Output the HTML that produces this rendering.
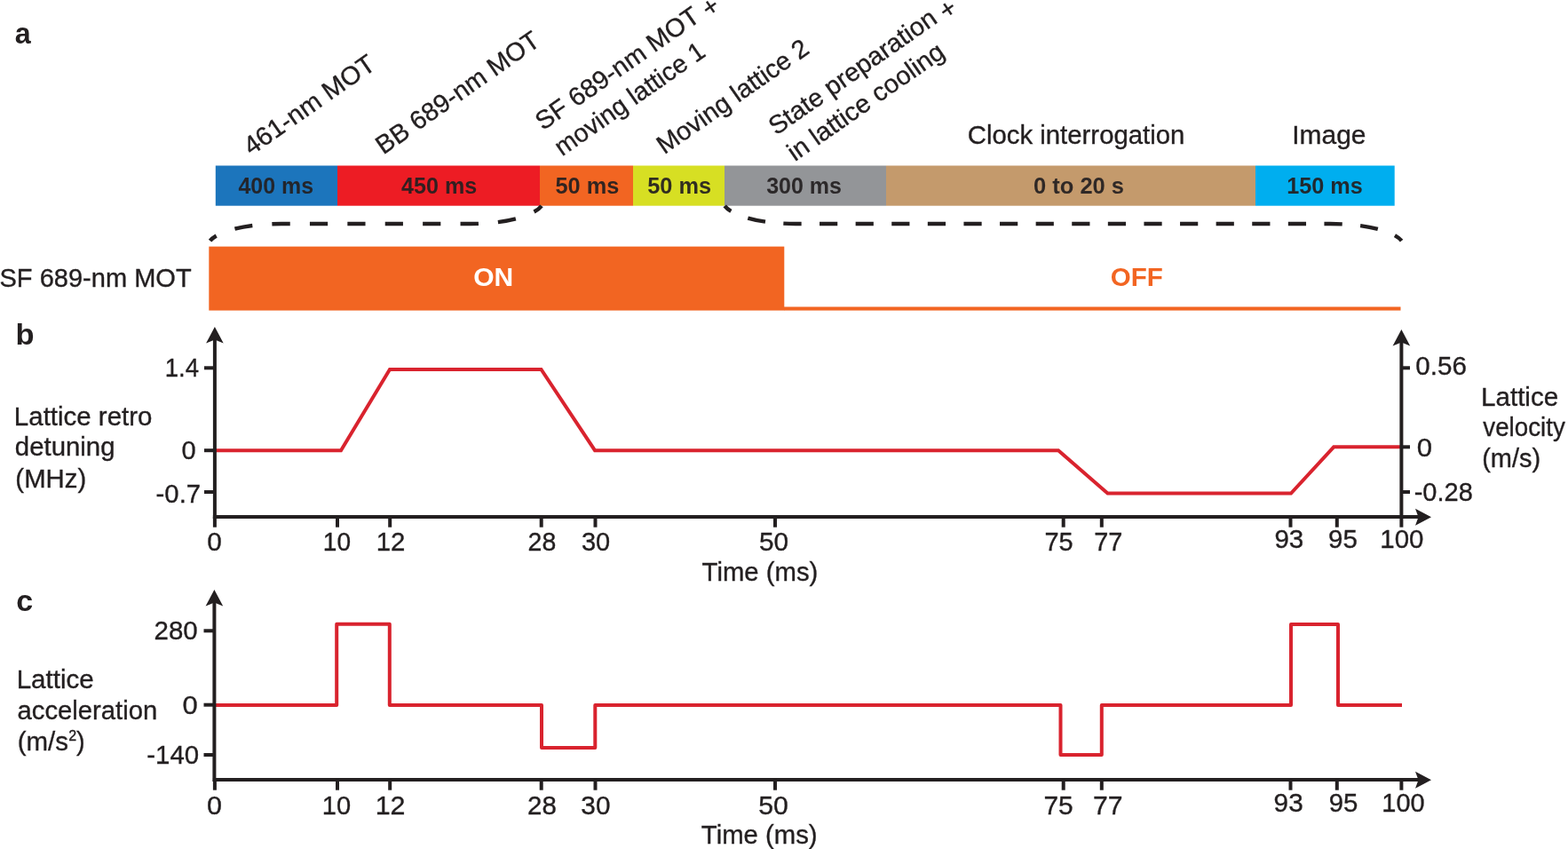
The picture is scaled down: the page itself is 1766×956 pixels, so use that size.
<!DOCTYPE html>
<html lang="en">
<head>
<meta charset="utf-8">
<title>Lattice clock timing sequence</title>
<style>
html,body{margin:0;padding:0;background:#ffffff;}
body{width:1766px;height:956px;overflow:hidden;}
svg{display:block;}
svg text{font-family:"Liberation Sans", Arial, Helvetica, sans-serif;}
svg text.r{stroke:#231f20;stroke-width:0.35px;}
</style>
</head>
<body>
<svg width="1766" height="956" viewBox="0 0 1766 956">
<rect x="0" y="0" width="1766" height="956" fill="#ffffff"/>
<rect x="242.8" y="186.5" width="137.2" height="45.2" fill="#1c75bc"/>
<rect x="380" y="186.5" width="228" height="45.2" fill="#ed1c24"/>
<rect x="608" y="186.5" width="105" height="45.2" fill="#f26522"/>
<rect x="713" y="186.5" width="103" height="45.2" fill="#d7df23"/>
<rect x="816" y="186.5" width="182" height="45.2" fill="#939598"/>
<rect x="998" y="186.5" width="416" height="45.2" fill="#c49a6c"/>
<rect x="1414" y="186.5" width="156.7" height="45.2" fill="#00aeef"/>
<text x="268.38" y="217.5" font-size="25" fill="#231f20" font-weight="bold" fill-opacity="0.93" textLength="84.66" lengthAdjust="spacingAndGlyphs">400 ms</text>
<text x="452.12" y="217.5" font-size="25" fill="#231f20" font-weight="bold" fill-opacity="0.93" textLength="85.17" lengthAdjust="spacingAndGlyphs">450 ms</text>
<text x="625.46" y="217.5" font-size="25" fill="#231f20" font-weight="bold" fill-opacity="0.93" textLength="71.84" lengthAdjust="spacingAndGlyphs">50 ms</text>
<text x="729.21" y="217.5" font-size="25" fill="#231f20" font-weight="bold" fill-opacity="0.93" textLength="71.84" lengthAdjust="spacingAndGlyphs">50 ms</text>
<text x="863.17" y="217.5" font-size="25" fill="#231f20" font-weight="bold" fill-opacity="0.93" textLength="84.87" lengthAdjust="spacingAndGlyphs">300 ms</text>
<text x="1163.98" y="217.5" font-size="25" fill="#231f20" font-weight="bold" fill-opacity="0.93" textLength="102.07" lengthAdjust="spacingAndGlyphs">0 to 20 s</text>
<text x="1449.16" y="217.5" font-size="25" fill="#231f20" font-weight="bold" fill-opacity="0.93" textLength="85.64" lengthAdjust="spacingAndGlyphs">150 ms</text>
<text x="16.86" y="49.0" font-size="33" fill="#231f20" font-weight="bold" textLength="17.95" lengthAdjust="spacingAndGlyphs">a</text>
<text x="17.52" y="388.0" font-size="33" fill="#231f20" font-weight="bold" textLength="21.09" lengthAdjust="spacingAndGlyphs">b</text>
<text x="18.27" y="687.7" font-size="33" fill="#231f20" font-weight="bold" textLength="18.92" lengthAdjust="spacingAndGlyphs">c</text>
<text x="1089.75" y="162" font-size="29" fill="#231f20" class="r" textLength="244.67" lengthAdjust="spacingAndGlyphs">Clock interrogation</text>
<text x="1455.24" y="162" font-size="29" fill="#231f20" class="r" textLength="83.28" lengthAdjust="spacingAndGlyphs">Image</text>
<text x="283.0" y="175.5" font-size="29" fill="#231f20" class="r" textLength="172.86" lengthAdjust="spacingAndGlyphs" transform="rotate(-35 283.0 175.5)">461-nm MOT</text>
<text x="431.8" y="174.5" font-size="29" fill="#231f20" class="r" textLength="217.56" lengthAdjust="spacingAndGlyphs" transform="rotate(-35 431.8 174.5)">BB 689-nm MOT</text>
<text x="611.5" y="147.5" font-size="29" fill="#231f20" class="r" textLength="218.09" lengthAdjust="spacingAndGlyphs" transform="rotate(-35 611.5 147.5)">SF 689-nm MOT</text>
<text class="r" x="798.83" y="20.61" font-size="29" fill="#231f20" transform="rotate(-35 798.83 20.61)">+</text>
<text x="633" y="176.5" font-size="29" fill="#231f20" class="r" textLength="199.47" lengthAdjust="spacingAndGlyphs" transform="rotate(-35 633 176.5)">moving lattice 1</text>
<text x="748.3" y="174.3" font-size="29" fill="#231f20" class="r" textLength="201.49" lengthAdjust="spacingAndGlyphs" transform="rotate(-35 748.3 174.3)">Moving lattice 2</text>
<text x="874.2" y="152.9" font-size="29" fill="#231f20" class="r" textLength="223.6" lengthAdjust="spacingAndGlyphs" transform="rotate(-35 874.2 152.9)">State preparation</text>
<text class="r" x="1066.01" y="22.87" font-size="29" fill="#231f20" transform="rotate(-35 1066.01 22.87)">+</text>
<text x="895.2" y="182.3" font-size="29" fill="#231f20" class="r" textLength="208.41" lengthAdjust="spacingAndGlyphs" transform="rotate(-35 895.2 182.3)">in lattice cooling</text>
<path d="M236.6,271.2 C243.6,262 272,252 317,252 L530,252 C575,252 603,241 610,231.9" fill="none" stroke="#231f20" stroke-width="4.4" stroke-dasharray="20.2 22.2" stroke-dashoffset="10.9"/>
<path d="M816.2,231.9 C823,241 851,252 896,252 L1498,252 C1543,252 1571.5,262 1578.6,271.2" fill="none" stroke="#231f20" stroke-width="4.4" stroke-dasharray="20.2 20.4" stroke-dashoffset="10.7"/>
<text x="-0.54" y="322.5" font-size="29" fill="#231f20" class="r" textLength="216.2" lengthAdjust="spacingAndGlyphs">SF 689-nm MOT</text>
<rect x="235.3" y="277.6" width="648" height="72" fill="#f26522"/>
<rect x="883" y="345.5" width="694.5" height="4.1" fill="#f26522"/>
<text x="533.27" y="322.0" font-size="29" fill="#ffffff" font-weight="bold" textLength="44.99" lengthAdjust="spacingAndGlyphs">ON</text>
<text x="1250.79" y="321.6" font-size="29" fill="#f26522" font-weight="bold" textLength="59.04" lengthAdjust="spacingAndGlyphs">OFF</text>
<polyline points="241.7,507.2 384,507.2 439,416 609.5,416 670,507.2 1192,507.2 1247.5,555.5 1454,555.5 1502.2,503.3 1578.4,503.3" fill="none" stroke="#d9232e" stroke-width="4" stroke-linejoin="miter"/>
<polyline points="241.7,794 379.2,794 379.2,702.7 438.8,702.7 438.8,794 610,794 610,842 670.3,842 670.3,794 1194.5,794 1194.5,850 1240.8,850 1240.8,794 1454,794 1454,703 1507,703 1507,794 1579,794" fill="none" stroke="#d9232e" stroke-width="4" stroke-linejoin="round"/>
<rect x="239.9" y="380" width="4" height="204" fill="#231f20"/>
<path d="M241.9,367.9 L251.70000000000002,386.4 L241.9,382.4 L232.1,386.4 Z" fill="#231f20"/>
<rect x="1576.4" y="383" width="4" height="201" fill="#231f20"/>
<path d="M1578.4,371 L1588.2,389.5 L1578.4,385.5 L1568.6000000000001,389.5 Z" fill="#231f20"/>
<rect x="239.9" y="580.0" width="1358.1" height="4" fill="#231f20"/>
<path d="M1612,582.2 L1594,572.7 L1597.5,582.2 L1594,591.7 Z" fill="#231f20"/>
<rect x="239.9" y="582" width="4" height="11.7" fill="#231f20"/>
<rect x="378.0" y="582" width="4" height="11.7" fill="#231f20"/>
<rect x="437.2" y="582" width="4" height="11.7" fill="#231f20"/>
<rect x="607.7" y="582" width="4" height="11.7" fill="#231f20"/>
<rect x="668.5" y="582" width="4" height="11.7" fill="#231f20"/>
<rect x="871.0" y="582" width="4" height="11.7" fill="#231f20"/>
<rect x="1195.7" y="582" width="4" height="11.7" fill="#231f20"/>
<rect x="1238.8" y="582" width="4" height="11.7" fill="#231f20"/>
<rect x="1451.5" y="582" width="4" height="11.7" fill="#231f20"/>
<rect x="1503.8" y="582" width="4" height="11.7" fill="#231f20"/>
<rect x="1576.4" y="582" width="4" height="11.7" fill="#231f20"/>
<text x="233.34" y="620" font-size="29" fill="#231f20" class="r" textLength="16.58" lengthAdjust="spacingAndGlyphs">0</text>
<text x="363.87" y="620" font-size="29" fill="#231f20" class="r" textLength="31.24" lengthAdjust="spacingAndGlyphs">10</text>
<text x="423.76" y="620" font-size="29" fill="#231f20" class="r" textLength="32.72" lengthAdjust="spacingAndGlyphs">12</text>
<text x="594.58" y="620" font-size="29" fill="#231f20" class="r" textLength="31.66" lengthAdjust="spacingAndGlyphs">28</text>
<text x="654.9" y="620" font-size="29" fill="#231f20" class="r" textLength="32.24" lengthAdjust="spacingAndGlyphs">30</text>
<text x="855.06" y="620" font-size="29" fill="#231f20" class="r" textLength="33.11" lengthAdjust="spacingAndGlyphs">50</text>
<text x="1176.52" y="620" font-size="29" fill="#231f20" class="r" textLength="32.2" lengthAdjust="spacingAndGlyphs">75</text>
<text x="1232.27" y="620" font-size="29" fill="#231f20" class="r" textLength="32.18" lengthAdjust="spacingAndGlyphs">77</text>
<text x="1435.41" y="617.4" font-size="29" fill="#231f20" class="r" textLength="32.9" lengthAdjust="spacingAndGlyphs">93</text>
<text x="1496.01" y="617.4" font-size="29" fill="#231f20" class="r" textLength="32.84" lengthAdjust="spacingAndGlyphs">95</text>
<text x="1554.26" y="617.4" font-size="29" fill="#231f20" class="r" textLength="49.21" lengthAdjust="spacingAndGlyphs">100</text>
<text x="790.61" y="653.75" font-size="29" fill="#231f20" class="r" textLength="130.71" lengthAdjust="spacingAndGlyphs">Time (ms)</text>
<rect x="230" y="412.3" width="11" height="4" fill="#231f20"/>
<rect x="230" y="505.2" width="11" height="4" fill="#231f20"/>
<rect x="230" y="552.0" width="11" height="4" fill="#231f20"/>
<rect x="1578" y="412.3" width="10" height="4" fill="#231f20"/>
<rect x="1578" y="501.3" width="10" height="4" fill="#231f20"/>
<rect x="1578" y="552.0" width="10" height="4" fill="#231f20"/>
<text x="185.71" y="423.8" font-size="29" fill="#231f20" class="r" textLength="38.3" lengthAdjust="spacingAndGlyphs">1.4</text>
<text x="204.57" y="516.8" font-size="29" fill="#231f20" class="r" textLength="16.17" lengthAdjust="spacingAndGlyphs">0</text>
<text x="175.61" y="565.5" font-size="29" fill="#231f20" class="r" textLength="50.46" lengthAdjust="spacingAndGlyphs">-0.7</text>
<text x="1594.35" y="422.2" font-size="29" fill="#231f20" class="r" textLength="57.56" lengthAdjust="spacingAndGlyphs">0.56</text>
<text x="1595.68" y="514.2" font-size="29" fill="#231f20" class="r" textLength="17.34" lengthAdjust="spacingAndGlyphs">0</text>
<text x="1592.73" y="563.9" font-size="29" fill="#231f20" class="r" textLength="66.03" lengthAdjust="spacingAndGlyphs">-0.28</text>
<text x="15.88" y="478.5" font-size="29" fill="#231f20" class="r" textLength="155.56" lengthAdjust="spacingAndGlyphs">Lattice retro</text>
<text x="16.82" y="513.1" font-size="29" fill="#231f20" class="r" textLength="112.66" lengthAdjust="spacingAndGlyphs">detuning</text>
<text x="17.38" y="548.8" font-size="29" fill="#231f20" class="r" textLength="79.84" lengthAdjust="spacingAndGlyphs">(MHz)</text>
<text x="1667.97" y="456.6" font-size="29" fill="#231f20" class="r" textLength="87.24" lengthAdjust="spacingAndGlyphs">Lattice</text>
<text x="1670.29" y="491.3" font-size="29" fill="#231f20" class="r" textLength="92.58" lengthAdjust="spacingAndGlyphs">velocity</text>
<text x="1669.2" y="526.1" font-size="29" fill="#231f20" class="r" textLength="65.99" lengthAdjust="spacingAndGlyphs">(m/s)</text>
<rect x="239.4" y="676" width="4" height="204" fill="#231f20"/>
<path d="M241.4,664.1 L251.20000000000002,682.6 L241.4,678.6 L231.6,682.6 Z" fill="#231f20"/>
<rect x="239.9" y="876.0" width="1358.1" height="4" fill="#231f20"/>
<path d="M1612,878.2 L1594,868.7 L1597.5,878.2 L1594,887.7 Z" fill="#231f20"/>
<rect x="239.9" y="878" width="4" height="11.7" fill="#231f20"/>
<rect x="378.0" y="878" width="4" height="11.7" fill="#231f20"/>
<rect x="437.2" y="878" width="4" height="11.7" fill="#231f20"/>
<rect x="607.7" y="878" width="4" height="11.7" fill="#231f20"/>
<rect x="668.5" y="878" width="4" height="11.7" fill="#231f20"/>
<rect x="871.0" y="878" width="4" height="11.7" fill="#231f20"/>
<rect x="1195.7" y="878" width="4" height="11.7" fill="#231f20"/>
<rect x="1238.8" y="878" width="4" height="11.7" fill="#231f20"/>
<rect x="1451.5" y="878" width="4" height="11.7" fill="#231f20"/>
<rect x="1503.8" y="878" width="4" height="11.7" fill="#231f20"/>
<rect x="1576.4" y="878" width="4" height="11.7" fill="#231f20"/>
<text x="233.01" y="916.6" font-size="29" fill="#231f20" class="r" textLength="16.99" lengthAdjust="spacingAndGlyphs">0</text>
<text x="362.79" y="916.6" font-size="29" fill="#231f20" class="r" textLength="32.35" lengthAdjust="spacingAndGlyphs">10</text>
<text x="422.69" y="916.6" font-size="29" fill="#231f20" class="r" textLength="33.84" lengthAdjust="spacingAndGlyphs">12</text>
<text x="594.03" y="916.6" font-size="29" fill="#231f20" class="r" textLength="32.75" lengthAdjust="spacingAndGlyphs">28</text>
<text x="654.37" y="916.6" font-size="29" fill="#231f20" class="r" textLength="33.05" lengthAdjust="spacingAndGlyphs">30</text>
<text x="854.29" y="916.6" font-size="29" fill="#231f20" class="r" textLength="33.65" lengthAdjust="spacingAndGlyphs">50</text>
<text x="1175.47" y="916.6" font-size="29" fill="#231f20" class="r" textLength="33.29" lengthAdjust="spacingAndGlyphs">75</text>
<text x="1230.96" y="916.6" font-size="29" fill="#231f20" class="r" textLength="33.56" lengthAdjust="spacingAndGlyphs">77</text>
<text x="1434.6" y="913.6" font-size="29" fill="#231f20" class="r" textLength="33.12" lengthAdjust="spacingAndGlyphs">93</text>
<text x="1496.72" y="913.6" font-size="29" fill="#231f20" class="r" textLength="32.73" lengthAdjust="spacingAndGlyphs">95</text>
<text x="1556.3" y="913.6" font-size="29" fill="#231f20" class="r" textLength="48.35" lengthAdjust="spacingAndGlyphs">100</text>
<text x="789.86" y="949.5" font-size="29" fill="#231f20" class="r" textLength="130.71" lengthAdjust="spacingAndGlyphs">Time (ms)</text>
<rect x="229.5" y="708.3" width="11.5" height="4" fill="#231f20"/>
<rect x="229.5" y="791.7" width="11.5" height="4" fill="#231f20"/>
<rect x="229.5" y="848.0" width="11.5" height="4" fill="#231f20"/>
<text x="173.53" y="720.4" font-size="29" fill="#231f20" class="r" textLength="49.13" lengthAdjust="spacingAndGlyphs">280</text>
<text x="205.49" y="804.4" font-size="29" fill="#231f20" class="r" textLength="17.22" lengthAdjust="spacingAndGlyphs">0</text>
<text x="165.31" y="860.4" font-size="29" fill="#231f20" class="r" textLength="58.85" lengthAdjust="spacingAndGlyphs">-140</text>
<text x="18.67" y="774.7" font-size="29" fill="#231f20" class="r" textLength="87.14" lengthAdjust="spacingAndGlyphs">Lattice</text>
<text x="19.47" y="809.9" font-size="29" fill="#231f20" class="r" textLength="157.84" lengthAdjust="spacingAndGlyphs">acceleration</text>
<text class="r" x="19.77" y="844.7" font-size="29" fill="#231f20" textLength="57.23" lengthAdjust="spacingAndGlyphs">(m/s</text>
<text class="r" x="77.2" y="834.2" font-size="16" fill="#231f20">2</text>
<text class="r" x="86.0" y="844.7" font-size="29" fill="#231f20">)</text>
</svg>
</body>
</html>
